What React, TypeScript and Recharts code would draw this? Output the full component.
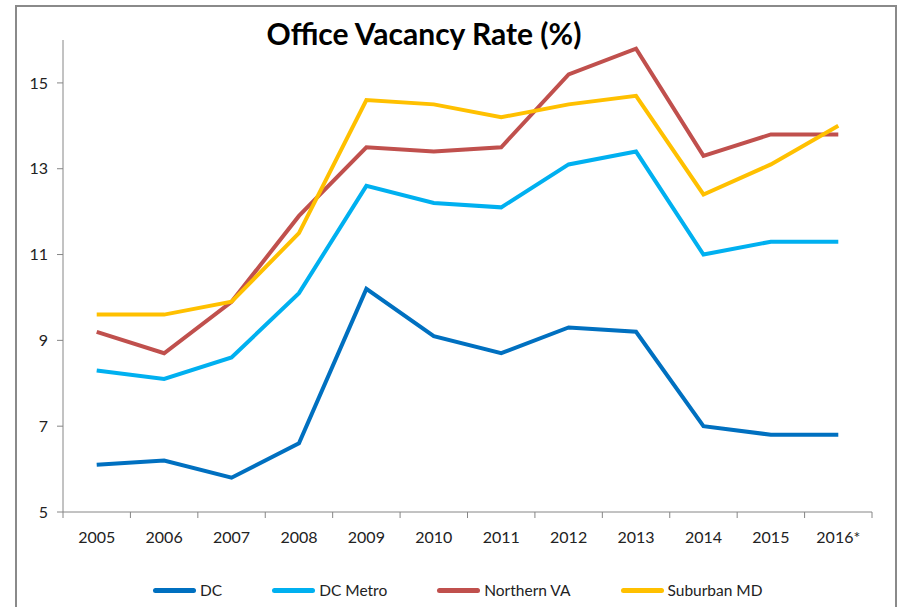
import React from "react"
import { LineChart, Line, XAxis, YAxis, Legend } from "recharts"

const years = ["2005", "2006", "2007", "2008", "2009", "2010", "2011", "2012", "2013", "2014", "2015", "2016*"]
const dc = [6.1, 6.2, 5.8, 6.6, 10.2, 9.1, 8.7, 9.3, 9.2, 7.0, 6.8, 6.8]
const dcMetro = [8.3, 8.1, 8.6, 10.1, 12.6, 12.2, 12.1, 13.1, 13.4, 11.0, 11.3, 11.3]
const northernVa = [9.2, 8.7, 9.9, 11.9, 13.5, 13.4, 13.5, 15.2, 15.8, 13.3, 13.8, 13.8]
const suburbanMd = [9.6, 9.6, 9.9, 11.5, 14.6, 14.5, 14.2, 14.5, 14.7, 12.4, 13.1, 14.0]
const yTicks = [5, 7, 9, 11, 13, 15]

const series = [
  { key: "dc", name: "DC", color: "#0070C0" },
  { key: "dcMetro", name: "DC Metro", color: "#00B0F0" },
  { key: "northernVa", name: "Northern VA", color: "#C0504D" },
  { key: "suburbanMd", name: "Suburban MD", color: "#FFC000" },
]

const data = years.map((year, i) => ({
  year,
  dc: dc[i],
  dcMetro: dcMetro[i],
  northernVa: northernVa[i],
  suburbanMd: suburbanMd[i],
}))

const W = 898
const H = 607
const MARGIN = { top: 40, right: 26, left: 0, bottom: 31 }
const Y_AXIS_W = 63
const STEP = (W - MARGIN.left - MARGIN.right - Y_AXIS_W) / years.length
const AXIS = "#868686"
const FONT = "Lato, 'Open Sans', sans-serif"

// Excel style: tick marks sit between categories, labels in the middle
const XTick = (props: any) => {
  const { x, y, payload, index } = props
  const half = STEP / 2
  const axisY = y - 20
  return (
    <g>
      <line x1={x - half} x2={x - half} y1={axisY} y2={axisY + 6} stroke={AXIS} />
      {index === years.length - 1 && (
        <line x1={x + half} x2={x + half} y1={axisY} y2={axisY + 6} stroke={AXIS} />
      )}
      <text x={x} y={y} dy="0.71em" textAnchor="middle" fill="#222" fontSize={16} fontFamily={FONT}>
        {payload.value}
      </text>
    </g>
  )
}

const LegendContent = () => (
  <div style={{ display: "flex", alignItems: "center", height: 24, paddingLeft: 153, fontFamily: FONT, fontSize: 15.5, color: "#222" }}>
    {series.map((s) => (
      <div key={s.key} style={{ display: "flex", alignItems: "center", marginRight: 50 }}>
        <div style={{ width: 43, height: 5, borderRadius: 3, background: s.color, marginRight: 4 }} />
        <span>{s.name}</span>
      </div>
    ))}
  </div>
)

export default function App() {
  return (
    <div style={{ position: "absolute", left: 0, top: 0, width: W, height: H, overflow: "hidden", background: "#fff" }}>
      <div style={{ position: "absolute", left: 15, top: 5, width: 878, height: 640, border: "2px solid #8a8a8a" }} />
      <div
        style={{
          position: "absolute",
          left: 0,
          top: 15,
          width: 848,
          textAlign: "center",
          fontFamily: FONT,
          fontWeight: 700,
          fontSize: 30,
          lineHeight: "36px",
          color: "#000",
        }}
      >
        Office Vacancy Rate (%)
      </div>
      <div style={{ position: "absolute", left: 0, top: 0 }}>
        <LineChart width={W} height={H} data={data} margin={MARGIN}>
          <XAxis
            dataKey="year"
            scale="band"
            stroke={AXIS}
            tickLine={false}
            tickSize={6}
            tickMargin={14}
            height={40}
            interval={0}
            tick={<XTick />}
          />
          <YAxis
            domain={[5, 16]}
            ticks={yTicks}
            width={Y_AXIS_W}
            stroke={AXIS}
            tickSize={6}
            tickMargin={9}
            tick={{ fill: "#222", fontSize: 16, fontFamily: FONT }}
          />
          <Legend
            verticalAlign="bottom"
            content={<LegendContent />}
            wrapperStyle={{ left: 0, bottom: 5, width: W, height: 24 }}
          />
          {series.map((s) => (
            <Line
              key={s.key}
              type="linear"
              dataKey={s.key}
              name={s.name}
              stroke={s.color}
              strokeWidth={4}
              dot={false}
              activeDot={false}
              isAnimationActive={false}
            />
          ))}
        </LineChart>
      </div>
    </div>
  )
}
